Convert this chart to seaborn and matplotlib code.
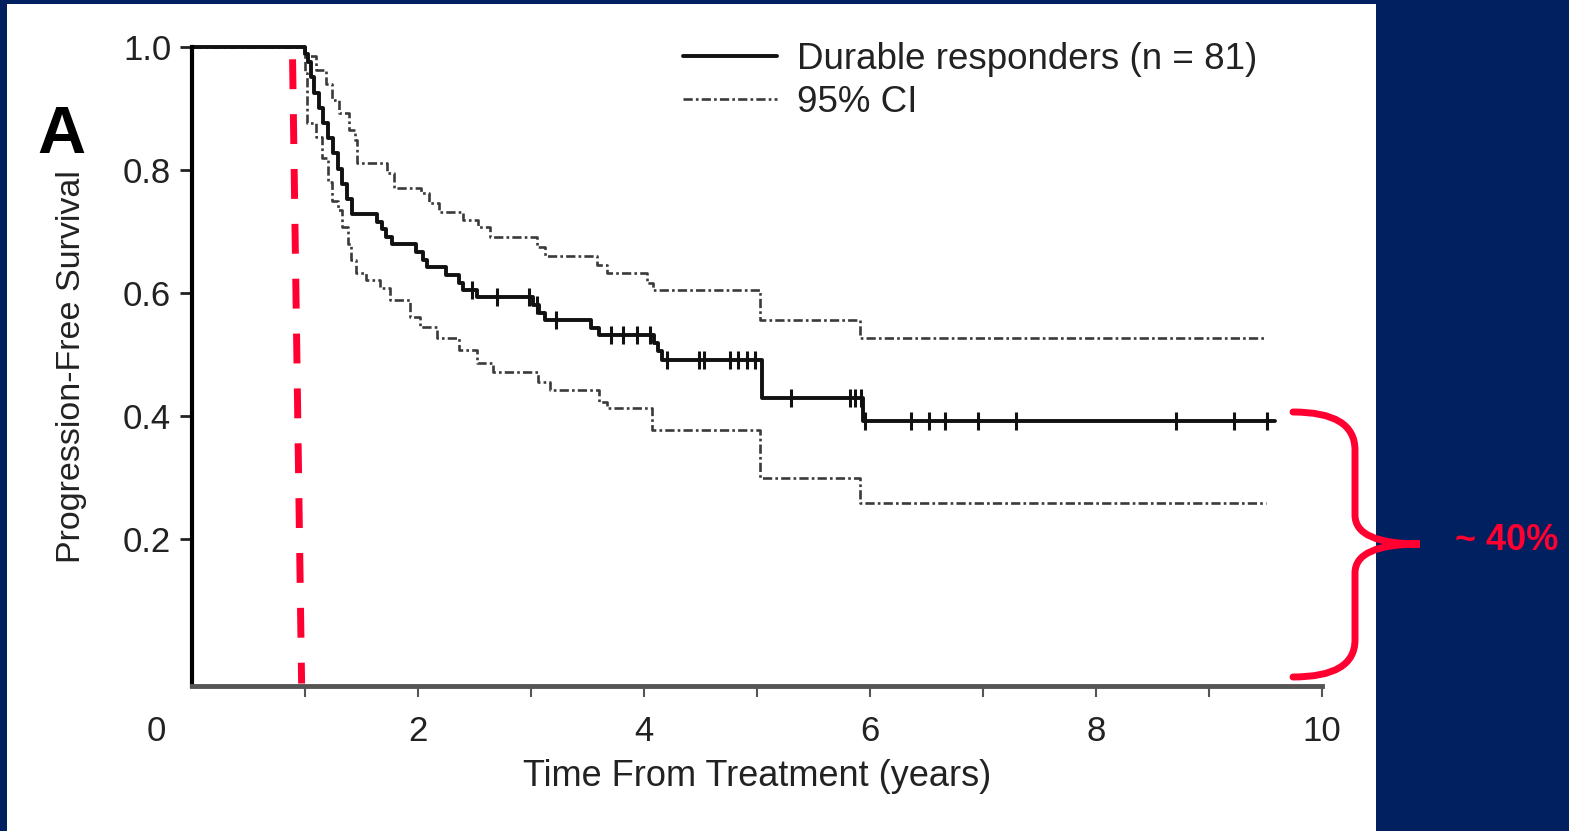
import numpy as np
import pandas as pd
import seaborn as sns
import matplotlib.pyplot as plt
from matplotlib.path import Path
from matplotlib.patches import PathPatch, Rectangle
from matplotlib.lines import Line2D
from matplotlib.transforms import ScaledTranslation

# Kaplan-Meier curve (durable responders, n = 81)
km_time = [0.00, 1.00, 1.03, 1.05, 1.08, 1.12, 1.16, 1.20, 1.25, 1.29, 1.33, 1.37, 1.42,
           1.64, 1.68, 1.72, 1.77, 1.98, 2.04, 2.08, 2.25, 2.36, 2.40, 2.52, 3.02, 3.07,
           3.12, 3.53, 3.60, 4.09, 4.12, 4.16, 5.04, 5.94, 9.58]
km_surv = [1.000, 0.988, 0.975, 0.951, 0.926, 0.901, 0.877, 0.852, 0.827, 0.802, 0.778, 0.753, 0.728,
           0.716, 0.704, 0.691, 0.679, 0.667, 0.654, 0.642, 0.630, 0.617, 0.605, 0.593, 0.580, 0.568,
           0.556, 0.543, 0.531, 0.518, 0.505, 0.491, 0.430, 0.392, 0.392]

# censored observations
censor_time = [2.48, 2.70, 2.98, 3.05, 3.22, 3.71, 3.81, 3.94, 4.05, 4.20, 4.49, 4.53,
               4.76, 4.83, 4.91, 4.98, 5.30, 5.82, 5.87, 5.92, 5.96, 6.36, 6.52, 6.66,
               6.96, 7.29, 8.71, 9.22, 9.51]

# 95% CI
ci_hi_time = [0.00, 1.00, 1.10, 1.19, 1.24, 1.30, 1.39, 1.44, 1.46, 1.73, 1.79, 2.03, 2.10,
              2.19, 2.40, 2.53, 2.64, 3.05, 3.12, 3.58, 3.67, 4.03, 4.08, 5.03, 5.91, 9.50]
ci_hi = [1.000, 0.985, 0.963, 0.940, 0.914, 0.893, 0.865, 0.849, 0.811, 0.795, 0.770, 0.763, 0.746,
         0.732, 0.719, 0.707, 0.691, 0.675, 0.660, 0.645, 0.632, 0.616, 0.605, 0.556, 0.527, 0.527]
ci_lo_time = [0.00, 1.00, 1.02, 1.10, 1.15, 1.20, 1.24, 1.29, 1.33, 1.38, 1.41, 1.45, 1.54, 1.66,
              1.75, 1.93, 2.02, 2.17, 2.36, 2.52, 2.66, 3.06, 3.17, 3.60, 3.67, 4.07, 5.03, 5.91, 9.50]
ci_lo = [1.000, 0.958, 0.876, 0.854, 0.820, 0.780, 0.750, 0.735, 0.707, 0.680, 0.654, 0.632, 0.621, 0.608,
         0.589, 0.561, 0.545, 0.527, 0.507, 0.486, 0.472, 0.455, 0.442, 0.423, 0.413, 0.377, 0.300, 0.259, 0.259]

# red annotation: dashed line near 1 year
ref_line_x = [0.89, 0.97]
ref_line_y = [0.98, -0.035]

x_ticks = list(range(1, 11))
x_ticklabels = ['', '2', '', '4', '', '6', '', '8', '', '10']
y_ticks = [0.2, 0.4, 0.6, 0.8, 1.0]
y_ticklabels = ['0.2', '0.4', '0.6', '0.8', '1.0']

sns.set_theme(style='ticks')
plt.rcParams['font.family'] = ['Liberation Sans', 'DejaVu Sans']

W, H = 1569, 831
navy = '#002060'
red = '#FF0030'
txt = '#222222'

fig = plt.figure(figsize=(W / 100, H / 100), dpi=100, facecolor=navy)
# white panel
fig.patches.append(Rectangle((7 / W, 0), (1376 - 7) / W, 1 - 4 / H, transform=fig.transFigure,
                             facecolor='white', edgecolor='none', zorder=-1))

ax = fig.add_axes([192 / W, 1 - 686 / H, (1322 - 192) / W, (686 - 47) / H])
ax.set_facecolor('none')

ci_style = dict(color='#3a3a3a', lw=1.9, linestyle=(0, (3.5, 1.2, 1, 1.2)))
sns.lineplot(x=ci_hi_time, y=ci_hi, ax=ax, drawstyle='steps-post', sort=False, estimator=None,
             clip_on=False, **ci_style)
sns.lineplot(x=ci_lo_time, y=ci_lo, ax=ax, drawstyle='steps-post', sort=False, estimator=None,
             clip_on=False, **ci_style)
sns.lineplot(x=km_time, y=km_surv, ax=ax, drawstyle='steps-post', sort=False, estimator=None,
             color='#111111', lw=2.8, clip_on=False)

idx = np.searchsorted(km_time, censor_time, side='right') - 1
censor_surv = np.array(km_surv)[idx]
sns.scatterplot(x=censor_time, y=censor_surv, ax=ax, marker='|', s=150, linewidth=2.2,
                color='#111111', zorder=4, clip_on=False)

ax.set_xlim(0, 10)
ax.set_ylim(-0.039, 1.0)
ax.set_xticks(x_ticks)
ax.set_xticklabels(x_ticklabels)
ax.set_yticks(y_ticks)
ax.set_yticklabels(y_ticklabels)
ax.tick_params(axis='y', direction='out', length=9, width=2, color=txt, pad=6,
               labelsize=25, labelcolor=txt)
ax.tick_params(axis='x', direction='out', length=8, width=1.5, color='#555555', pad=13,
               labelsize=25, labelcolor=txt)
sns.despine(ax=ax)
ax.spines['left'].set_linewidth(3)
ax.spines['left'].set_color('black')
ax.spines['bottom'].set_linewidth(3.5)
ax.spines['bottom'].set_color('#555555')

# origin label sits to the left of the axis
ax.text(0, 0, '0', transform=ax.get_xaxis_transform() + ScaledTranslation(-0.36, -21 / 72, fig.dpi_scale_trans),
        ha='center', va='top', fontsize=25, color=txt)

ax.set_xlabel('Time From Treatment (years)', fontsize=26, labelpad=8, color=txt)
ax.set_ylabel('Progression-Free Survival', fontsize=24.5, labelpad=26, color=txt)

fig.text(61 / W, 1 - 136 / H, 'A', fontsize=48, fontweight='bold', ha='center', va='center', color='black')

handles = [Line2D([], [], color='#111111', lw=2.8), Line2D([], [], **ci_style)]
ax.legend(handles=handles, labels=['Durable responders (n = 81)', '95% CI'], loc='upper left',
          bbox_to_anchor=(683 / W, 1 - 42 / H), bbox_transform=fig.transFigure, frameon=False,
          fontsize=26.5, handlelength=2.55, handletextpad=0.55, labelspacing=0.22,
          borderpad=0, borderaxespad=0, labelcolor=txt)

# red dashed line
ax.plot(ref_line_x, ref_line_y, color=red, lw=5, dashes=(4.3, 3.6), clip_on=False,
        solid_capstyle='butt', zorder=5)

# red brace and label
def fp(x, y):
    return (x / W, 1 - y / H)

verts = [fp(1293, 412), fp(1355, 412), fp(1355, 450), fp(1355, 515), fp(1355, 544), fp(1420, 544),
         fp(1355, 544), fp(1355, 573), fp(1355, 640), fp(1355, 677), fp(1293, 677)]
codes = [Path.MOVETO, Path.CURVE3, Path.CURVE3, Path.LINETO, Path.CURVE3, Path.CURVE3,
         Path.CURVE3, Path.CURVE3, Path.LINETO, Path.CURVE3, Path.CURVE3]
fig.patches.append(PathPatch(Path(verts, codes), transform=fig.transFigure, facecolor='none',
                             edgecolor=red, lw=5, capstyle='round', zorder=5))
fig.text(1455 / W, 1 - 540 / H, '~ 40%', color=red, fontsize=26, fontweight='bold',
         ha='left', va='center')

fig.savefig('out.png', dpi=100, facecolor=fig.get_facecolor())
